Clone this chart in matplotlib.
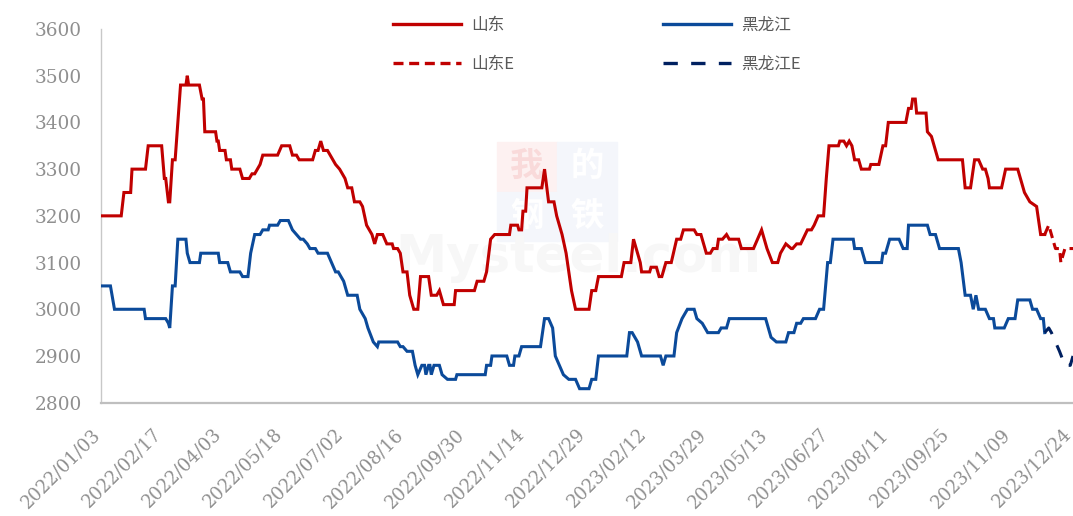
import matplotlib
matplotlib.use("Agg")
import matplotlib.pyplot as plt
from matplotlib.lines import Line2D
from matplotlib.patches import Rectangle
from matplotlib.transforms import ScaledTranslation
import numpy as np
import pandas as pd

# ---------------- data (days since 2022-01-03, price) ----------------
BASE = "2022-01-03"

sd_day = [0, 15, 17, 22, 23, 33, 35, 45, 47, 48, 50, 51, 53, 55, 59, 63, 64, 65, 73, 75, 76, 77,
          85, 86, 87, 88, 92, 93, 96, 97, 103, 105, 110, 112, 114, 116, 118, 120, 131, 134, 140,
          142, 145, 147, 157, 159, 161, 163, 165, 168, 170, 174, 177, 181, 183, 186, 188, 192,
          194, 197, 201, 203, 205, 209, 212, 216, 217, 220, 222, 224, 227, 229, 232, 235, 237,
          243, 245, 249, 251, 252, 254, 262, 263, 277, 279, 284, 286, 289, 292, 303, 304, 309,
          310, 312, 313, 315, 316, 327, 329, 332, 336, 338, 342, 345, 347, 349, 352, 362, 364,
          367, 369, 386, 388, 393, 395, 398, 400, 401, 407, 408, 412, 414, 416, 419, 423, 427,
          430, 432, 440, 442, 445, 449, 452, 454, 457, 458, 461, 464, 466, 473, 475, 484, 490,
          494, 498, 502, 504, 508, 512, 513, 516, 519, 524, 527, 529, 532, 536, 538, 540, 547,
          548, 551, 553, 555, 557, 559, 562, 564, 570, 571, 577, 580, 582, 584, 597, 599, 601,
          602, 604, 605, 612, 613, 616, 617, 621, 639, 641, 645, 648, 651, 654, 656, 658, 659,
          668, 671, 680, 685, 689, 694, 697, 700]
sd_val = [3200, 3200, 3250, 3250, 3300, 3300, 3350, 3350, 3280, 3280, 3230, 3230, 3320, 3320,
          3480, 3480, 3500, 3480, 3480, 3450, 3450, 3380, 3380, 3360, 3360, 3340, 3340, 3320,
          3320, 3300, 3300, 3280, 3280, 3290, 3290, 3300, 3310, 3330, 3330, 3350, 3350, 3330,
          3330, 3320, 3320, 3340, 3340, 3360, 3340, 3340, 3330, 3310, 3300, 3280, 3260, 3260,
          3230, 3230, 3220, 3180, 3160, 3140, 3160, 3160, 3140, 3140, 3130, 3130, 3120, 3080,
          3080, 3030, 3000, 3000, 3070, 3070, 3030, 3030, 3040, 3030, 3010, 3010, 3040, 3040,
          3060, 3060, 3080, 3150, 3160, 3160, 3180, 3180, 3170, 3170, 3210, 3210, 3260, 3260,
          3300, 3230, 3230, 3200, 3160, 3120, 3080, 3040, 3000, 3000, 3040, 3040, 3070, 3070,
          3100, 3100, 3150, 3120, 3100, 3080, 3080, 3090, 3090, 3070, 3070, 3100, 3100, 3150,
          3150, 3170, 3170, 3160, 3160, 3120, 3120, 3130, 3130, 3150, 3150, 3160, 3150, 3150,
          3130, 3130, 3170, 3130, 3100, 3100, 3120, 3140, 3130, 3130, 3140, 3140, 3170, 3170,
          3180, 3200, 3200, 3280, 3350, 3350, 3360, 3360, 3350, 3360, 3350, 3320, 3320, 3300,
          3300, 3310, 3310, 3350, 3350, 3400, 3400, 3430, 3430, 3450, 3450, 3420, 3420, 3380,
          3370, 3360, 3320, 3320, 3260, 3260, 3320, 3320, 3300, 3300, 3280, 3260, 3260, 3300,
          3300, 3250, 3230, 3220, 3160, 3160]

sde_day = [700, 703, 706, 708, 711, 712, 715, 721]
sde_val = [3160, 3180, 3150, 3130, 3130, 3100, 3130, 3130]

hlj_day = [0, 7, 10, 32, 33, 48, 50, 51, 53, 55, 57, 63, 64, 66, 73, 74, 87, 88, 94, 96, 103,
           105, 109, 111, 114, 118, 120, 124, 125, 131, 133, 139, 142, 145, 148, 150, 153, 155,
           159, 161, 168, 171, 174, 176, 180, 183, 190, 192, 196, 198, 202, 205, 206, 220, 222,
           224, 227, 231, 233, 235, 238, 240, 241, 243, 244, 245, 247, 251, 253, 257, 263, 264,
           285, 286, 289, 290, 301, 303, 306, 307, 310, 312, 326, 329, 332, 335, 337, 340, 343,
           347, 352, 355, 362, 364, 367, 369, 390, 392, 394, 398, 401, 415, 417, 419, 425, 427,
           431, 435, 440, 442, 446, 450, 458, 460, 464, 466, 493, 497, 501, 508, 510, 514, 516,
           519, 521, 530, 533, 536, 539, 541, 543, 558, 559, 564, 567, 579, 580, 582, 585, 592,
           595, 598, 599, 613, 615, 619, 622, 636, 638, 641, 645, 647, 649, 651, 656, 659, 662,
           663, 670, 673, 678, 680, 689, 691, 694, 697, 699, 700]
hlj_val = [3050, 3050, 3000, 3000, 2980, 2980, 2970, 2960, 3050, 3050, 3150, 3150, 3120, 3100,
           3100, 3120, 3120, 3100, 3100, 3080, 3080, 3070, 3070, 3120, 3160, 3160, 3170, 3170,
           3180, 3180, 3190, 3190, 3170, 3160, 3150, 3150, 3140, 3130, 3130, 3120, 3120, 3100,
           3080, 3080, 3060, 3030, 3030, 3000, 2980, 2960, 2930, 2920, 2930, 2930, 2920, 2920,
           2910, 2910, 2880, 2860, 2880, 2880, 2860, 2880, 2880, 2860, 2880, 2880, 2860, 2850,
           2850, 2860, 2860, 2880, 2880, 2900, 2900, 2880, 2880, 2900, 2900, 2920, 2920, 2980,
           2980, 2960, 2900, 2880, 2860, 2850, 2850, 2830, 2830, 2850, 2850, 2900, 2900, 2950,
           2950, 2930, 2900, 2900, 2880, 2900, 2900, 2950, 2980, 3000, 3000, 2980, 2970, 2950,
           2950, 2960, 2960, 2980, 2980, 2940, 2930, 2930, 2950, 2950, 2970, 2970, 2980, 2980,
           3000, 3000, 3100, 3100, 3150, 3150, 3130, 3130, 3100, 3100, 3120, 3120, 3150, 3150,
           3130, 3130, 3180, 3180, 3160, 3160, 3130, 3130, 3100, 3030, 3030, 3000, 3030, 3000,
           3000, 2980, 2980, 2960, 2960, 2980, 2980, 3020, 3020, 3000, 3000, 2980, 2980, 2950]

hlje_day = [700, 703, 705, 711, 715, 719, 721]
hlje_val = [2950, 2960, 2950, 2910, 2880, 2880, 2900]

labels = ["山东", "山东E", "黑龙江", "黑龙江E"]
y_ticks = [2800, 2900, 3000, 3100, 3200, 3300, 3400, 3500, 3600]
x_tick_step_days = 45
x_first = "2022-01-03"
x_last = "2023-12-24"

# ---------------- styling ----------------
RED = "#C00000"
BLUE = "#0B4A9A"
NAVY = "#002060"
GREY = "#8f8f8f"
CJK = ["Noto Sans CJK SC", "DejaVu Sans"]


def to_dates(days):
    return pd.Timestamp(BASE) + pd.to_timedelta(np.asarray(days), unit="D")


W, H = 1073, 516
fig = plt.figure(figsize=(W / 100, H / 100), dpi=100)
ax = fig.add_axes([101 / W, 113.3 / H, 972 / W, 373.7 / H])
ax.set_zorder(2)
ax.patch.set_alpha(0)

# faint watermark (behind the axes)
wm = dict(transform=fig.transFigure, ha="center", va="center", zorder=0)
boxes = [(497, 142, "#fdf1f1", "我", "#f9dada"), (557, 142, "#f4f6fb", "的", "#ffffff"),
         (497, 192, "#f4f6fb", "钢", "#ffffff"), (557, 192, "#f4f6fb", "铁", "#ffffff")]
for bx, by, bc, ch, cc in boxes:
    fig.patches.append(Rectangle((bx / W, 1 - (by + 49) / H), 60 / W, 49 / H,
                                 transform=fig.transFigure, color=bc, zorder=0))
    fig.text((bx + 30) / W, 1 - (by + 24) / H, ch, fontsize=24, color=cc,
             family=CJK, fontweight="bold", **wm)
fig.text(578 / W, 1 - 258 / H, "Mysteel.com", fontsize=37, color="#f7f7f7",
         family="DejaVu Sans", fontweight="bold", **wm)

ax.plot(to_dates(sd_day), sd_val, color=RED, lw=2.2, solid_joinstyle="miter", zorder=3)
ax.plot(to_dates(sde_day), sde_val, color=RED, lw=2.2, dashes=(3, 1.7), zorder=3)
ax.plot(to_dates(hlj_day), hlj_val, color=BLUE, lw=2.2, solid_joinstyle="miter", zorder=3)
ax.plot(to_dates(hlje_day), hlje_val, color=NAVY, lw=2.2, dashes=(4.3, 4), zorder=3)

ax.set_ylim(2800, 3600)
ax.set_yticks(y_ticks)
ax.set_xlim(pd.Timestamp(BASE), pd.Timestamp(BASE) + pd.Timedelta(days=721))
xt = pd.date_range(x_first, x_last, freq=f"{x_tick_step_days}D")
ax.set_xticks(xt)
ax.set_xticklabels([d.strftime("%Y/%m/%d") for d in xt])

for s in ["top", "right"]:
    ax.spines[s].set_visible(False)
ax.spines["left"].set_color("#c8c8c8")
ax.spines["left"].set_linewidth(1.0)
ax.spines["bottom"].set_color("#bfbfbf")
ax.spines["bottom"].set_linewidth(1.6)

ax.tick_params(axis="y", length=0, pad=14, labelsize=13.3, labelcolor=GREY)
ax.tick_params(axis="x", length=0, pad=14, labelsize=13.0, labelcolor=GREY)
for t in ax.get_yticklabels():
    t.set_family("DejaVu Serif")
shift = ScaledTranslation(-10 / 100, -3 / 100, fig.dpi_scale_trans)
for t in ax.get_xticklabels():
    t.set_family("DejaVu Serif")
    t.set_rotation(45)
    t.set_ha("right")
    t.set_va("top")
    t.set_rotation_mode("anchor")
    t.set_transform(t.get_transform() + shift)

handles = [Line2D([], [], color=RED, lw=2.4),
           Line2D([], [], color=RED, lw=2.4, dashes=(3, 1.7)),
           Line2D([], [], color=BLUE, lw=2.4),
           Line2D([], [], color=NAVY, lw=2.4, dashes=(4.3, 4))]
leg = fig.legend(handles, labels, ncol=2, loc="upper left",
                 bbox_to_anchor=(393 / W, 1 - 17 / H), frameon=False,
                 prop={"family": CJK, "size": 12}, handlelength=4.1,
                 handletextpad=0.6, columnspacing=8.9, labelspacing=1.3,
                 borderpad=0, borderaxespad=0)
for t in leg.get_texts():
    t.set_color("#595959")

fig.savefig("out.png", dpi=100)
